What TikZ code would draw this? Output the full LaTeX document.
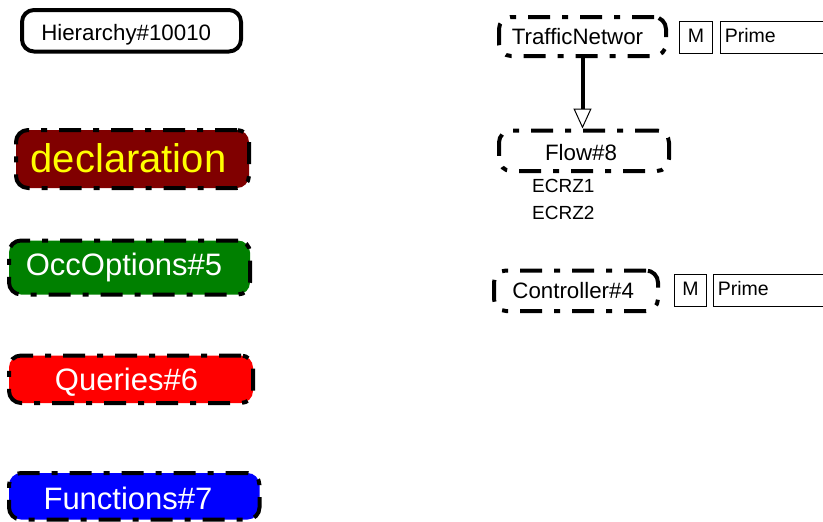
\documentclass[tikz,border=0pt]{standalone}
\usepackage{fontspec}
\setmainfont{Liberation Sans}
\usetikzlibrary{arrows.meta}
\definecolor{maroonfill}{RGB}{128,0,0}
\definecolor{greenfill}{RGB}{0,128,0}
\definecolor{redfill}{RGB}{255,0,0}
\definecolor{bluefill}{RGB}{0,0,255}
\definecolor{yellowtext}{RGB}{255,255,0}
\tikzset{
  box/.style={rectangle, rounded corners=12pt, inner sep=0pt, line width=4pt, draw=black},
  dashdot/.style={box, dash pattern=on 22pt off 12pt on 6pt off 12pt},
  txt/.style={anchor=base, inner sep=0pt},
  big/.style={txt, font=\fontsize{31}{34}\selectfont, text=white},
  mid/.style={txt, font=\fontsize{22.3}{25}\selectfont},
  port/.style={anchor=base west, inner sep=0pt, font=\fontsize{19}{22}\selectfont},
  tagbox/.style={rectangle, draw=black, line width=0.8pt, inner sep=0pt,
    minimum height=32pt, text height=14pt, text depth=4pt, font=\fontsize{19.5}{22}\selectfont},
  arrow/.style={line width=4pt, -{Triangle[length=20pt, width=18pt, line width=1pt, fill=white]}}
}
\begin{document}
\begin{tikzpicture}[x=1pt, y=-1pt]
\useasboundingbox (0,0) rectangle (823,522);
\clip (0,0) rectangle (823,522);

% left column of groups
\node[box, minimum width=219pt, minimum height=41.5pt] (hier) at (131.5,30.75) {};
\node[mid] (hier-t) at (126.2,40) {Hierarchy\#10010};

\node[dashdot, fill=maroonfill, minimum width=233pt, minimum height=58pt] (decl) at (132.5,159) {};
\node[txt, font=\fontsize{40}{44}\selectfont, text=yellowtext] (decl-t) at (128.5,172) {declaration};

\node[dashdot, fill=greenfill, minimum width=241pt, minimum height=54pt] (occ) at (129.5,267.5) {};
\node[big] (occ-t) at (124,275) {OccOptions\#5};

\node[dashdot, fill=redfill, minimum width=244pt, minimum height=47.5pt] (qry) at (131,379.25) {};
\node[big] (qry-t) at (126.5,390.7) {Queries\#6};

\node[dashdot, fill=bluefill, minimum width=250.5pt, minimum height=46.5pt] (fun) at (134.25,496.25) {};
\node[big] (fun-t) at (128,509.3) {Functions\#7};

% right side: components
\node[dashdot, minimum width=167pt, minimum height=39pt] (traffic) at (582.5,36.5) {};
\node[mid] (traffic-t) at (577.5,45) {TrafficNetwor};

\node[dashdot, minimum width=170pt, minimum height=40.5pt] (flow) at (584,150.75) {};
\node[mid] (flow-t) at (581,160) {Flow\#8};

\node[dashdot, minimum width=164pt, minimum height=40.5pt] (ctrl) at (576,290.75) {};
\node[mid] (ctrl-t) at (573.2,298.3) {Controller\#4};

% ports of Flow#8
\node[port] (ecrz1) at (532,192.7) {ECRZ1};
\node[port] (ecrz2) at (532,219.3) {ECRZ2};

% mode and name tags
\node[tagbox, minimum width=33pt] (m1) at (696,37) {M};
\node[tagbox, anchor=west, minimum width=120pt, text width=112pt, align=left, inner xsep=5pt] (p1) at (719.5,37) {Prime};
\node[tagbox, minimum width=32pt] (m2) at (690.5,290.85) {M};
\node[tagbox, anchor=west, minimum width=120pt, text width=112pt, align=left, inner xsep=5pt] (p2) at (712.5,290.85) {Prime};

% containment arrow
\draw[arrow] (traffic.south) -- (traffic.south |- flow.north);
\end{tikzpicture}
\end{document}
